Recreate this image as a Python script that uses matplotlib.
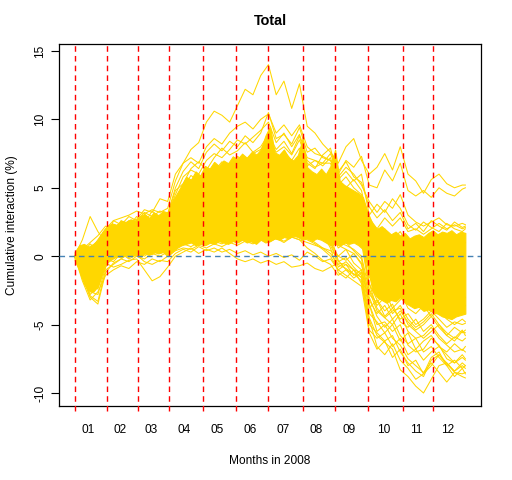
import matplotlib
matplotlib.use("Agg")
import matplotlib.pyplot as plt

plt.rcParams['font.family'] = ['Liberation Sans', 'DejaVu Sans']

# trading-day grid (2008) for the individual curves
days = [1, 6, 11, 16, 21, 26, 31, 36, 41, 46, 51, 56, 61, 66, 71, 76, 81, 86, 91, 96,
        101, 106, 111, 116, 121, 126, 131, 136, 141, 146, 151, 156, 161, 166, 171, 176,
        181, 186, 191, 196, 201, 206, 211, 216, 221, 226, 231, 236, 241, 246, 251, 253]

month_starts = [1, 22, 42, 62, 84, 105, 126, 148, 169, 190, 213, 232]
last_day = 253
month_labels = ["01", "02", "03", "04", "05", "06", "07", "08", "09", "10", "11", "12"]

# dense core of the bundle of curves (finer grid)
core_days = [1, 4, 7, 10, 13, 16, 19, 22, 25, 28, 31, 34, 37, 40, 43, 46, 49, 52, 55, 58,
             61, 64, 67, 70, 73, 76, 79, 82, 85, 88, 91, 94, 97, 100, 103, 106, 109, 112,
             115, 118, 121, 124, 127, 130, 133, 136, 139, 142, 145, 148, 151, 154, 157,
             160, 163, 166, 169, 172, 175, 178, 181, 184, 187, 190, 193, 196, 199, 202,
             205, 208, 211, 214, 217, 220, 223, 226, 229, 232, 235, 238, 241, 244, 247,
             250, 253]
core_hi = [0.3, 0.8, 0.9, 0.7, 0.9, 1.2, 1.8, 2.2, 2.4, 2.3, 2.6, 2.5, 2.7, 2.6, 2.9, 3.1,
           2.8, 3.2, 3.0, 3.3, 3.2, 4.0, 4.6, 5.2, 5.8, 5.6, 6.2, 5.9, 6.6, 6.4, 6.9, 6.6,
           7.0, 6.8, 7.3, 7.1, 7.5, 7.2, 7.6, 7.4, 7.8, 8.8, 9.5, 7.6, 7.4, 7.8, 7.2, 7.0,
           7.4, 8.6, 6.5, 6.2, 6.0, 6.4, 6.0, 6.6, 7.8, 5.5, 5.2, 5.0, 4.8, 4.6, 4.3, 3.2,
           2.4, 2.0, 2.2, 1.9, 1.6, 1.8, 1.5, 1.7, 1.3, 1.5, 1.6, 1.4, 1.7, 1.9, 1.6, 1.8,
           1.7, 1.9, 1.6, 1.8, 1.7]
core_lo = [-0.3, -1.0, -2.0, -2.5, -2.6, -2.2, -1.2, -0.4, -0.2, 0.0, -0.1, 0.1, 0.0, 0.1,
           -0.1, 0.2, 0.1, 0.3, 0.2, 0.3, 0.0, 0.3, 0.6, 0.8, 0.9, 1.0, 0.8, 0.9, 0.8, 1.0,
           0.9, 1.1, 1.0, 0.9, 1.1, 1.0, 1.2, 1.0, 1.1, 0.9, 1.2, 1.0, 1.1, 1.3, 1.2, 1.4,
           1.3, 1.5, 1.4, 1.2, 1.3, 1.1, 1.3, 1.2, 1.0, 0.8, 0.9, 0.8, 1.0, 0.9, 1.0, 0.8,
           0.5, -0.8, -2.5, -3.0, -3.2, -3.4, -3.2, -3.3, -3.0, -3.4, -3.6, -3.8, -3.7,
           -4.0, -3.9, -4.1, -4.2, -4.4, -4.5, -4.6, -4.4, -4.3, -4.2]

# individual curves reaching outside the core
curve_1 = [0.0, 1.2, 2.9, 1.8, 1.0, 2.6, 2.8, 3.0, 3.3, 3.1, 3.4, 3.2, 3.5, 5.5, 6.8, 7.8,
           8.3, 9.8, 10.6, 10.3, 9.8, 11.0, 12.2, 11.8, 13.2, 14.0, 11.8, 12.8, 10.8, 12.6,
           9.5, 9.0, 8.2, 7.6, 6.8, 8.0, 8.6, 7.0, 6.0, 6.5, 7.5, 6.3, 8.0, 6.0, 5.5, 4.6,
           5.6, 6.0, 5.3, 5.0, 5.2, 5.2]
curve_2 = [0.0, 0.5, 1.0, 1.5, 2.2, 2.0, 2.4, 2.5, 2.7, 3.4, 3.2, 4.2, 4.0, 6.0, 6.8, 7.2,
           6.8, 8.0, 8.6, 8.2, 9.0, 9.5, 9.8, 9.3, 10.0, 10.4, 9.0, 9.6, 8.8, 9.6, 8.0, 7.5,
           7.3, 7.0, 5.8, 6.5, 6.0, 5.2, 4.0, 3.2, 4.0, 3.5, 4.5, 3.0, 2.5, 2.2, 2.5, 2.8,
           2.3, 2.2, 2.4, 2.3]
curve_3 = [0.0, 0.2, 0.5, 0.8, 1.8, 2.2, 2.0, 2.3, 2.5, 2.6, 2.8, 2.7, 3.0, 4.5, 5.8, 6.3,
           6.0, 7.0, 7.5, 7.2, 7.8, 8.5, 8.2, 8.7, 9.2, 9.8, 8.3, 9.0, 8.0, 8.9, 7.2, 7.0,
           6.8, 6.8, 5.2, 5.8, 5.0, 4.5, 2.8, 2.0, 2.8, 2.2, 2.8, 1.8, 2.0, 1.6, 2.0, 2.4,
           2.0, 2.3, 2.0, 2.1]
curve_4 = [0.0, 0.5, 0.3, 0.6, 1.5, 1.8, 2.0, 2.2, 2.4, 2.3, 2.5, 2.6, 2.8, 4.0, 4.8, 5.5,
           5.2, 6.0, 6.3, 6.0, 6.6, 7.2, 7.0, 7.5, 7.8, 8.5, 7.6, 8.0, 7.4, 8.5, 7.0, 6.5,
           6.8, 7.5, 6.0, 7.0, 6.5, 7.3, 5.2, 5.0, 6.3, 5.5, 6.8, 4.8, 4.4, 4.8, 4.3, 5.0,
           4.6, 4.4, 4.9, 5.0]
curve_5 = [0.0, -1.5, -3.0, -3.5, -1.2, -0.5, -0.2, 0.2, 0.0, 0.4, 0.6, 0.5, 0.2, 0.8, 1.2,
           1.5, 1.3, 1.8, 2.0, 1.8, 2.2, 2.5, 2.4, 2.8, 2.6, 3.0, 2.8, 3.2, 3.0, 3.5, 2.8,
           2.6, 2.5, 2.0, 1.0, 0.8, 0.5, 0.0, -2.5, -4.0, -4.5, -5.0, -4.2, -5.5, -6.0,
           -5.8, -5.2, -6.0, -6.5, -7.0, -6.8, -7.0]
curve_6 = [0.0, -1.0, -2.2, -2.0, -0.5, -0.8, -0.6, -0.3, -0.2, -1.0, -1.8, -1.5, -0.8,
           0.0, 0.3, 0.6, 0.2, 0.5, 0.3, 0.6, 0.2, -0.2, -0.4, -0.2, -0.5, -0.3, -0.6, -0.4,
           -0.8, -0.7, -0.5, -0.9, -1.1, -0.8, -0.5, -0.6, -1.0, -1.2, -1.5, -2.5, -2.0,
           -3.0, -2.5, -3.5, -3.0, -3.8, -3.2, -3.6, -4.0, -3.5, -3.8, -3.6]
curve_7 = [0.0, -0.8, -1.8, -1.2, 0.2, 0.5, 0.8, 1.0, 0.6, 0.8, 1.0, 1.2, 0.8, 1.5, 2.0,
           2.2, 2.0, 2.5, 2.8, 2.5, 3.0, 3.2, 3.5, 3.2, 3.6, 3.8, 3.5, 3.6, 3.8, 4.0, 3.2,
           2.8, 2.5, 1.5, -0.3, -1.0, -1.3, -1.5, -4.5, -5.8, -6.3, -6.8, -8.3, -8.8, -9.5,
           -10.0, -9.0, -8.0, -7.8, -8.5, -8.8, -8.9]
curve_8 = [0.0, -0.5, -1.0, -0.8, 0.8, 1.0, 1.2, 1.4, 1.2, 1.5, 1.6, 1.5, 1.3, 2.0, 2.5,
           3.0, 2.8, 3.2, 3.5, 3.3, 3.8, 4.0, 4.2, 4.0, 4.5, 4.8, 4.5, 4.6, 4.5, 5.0, 4.0,
           3.6, 3.5, 2.5, 0.8, 0.5, 0.2, -0.5, -3.5, -5.5, -5.0, -6.0, -6.5, -7.5, -8.0,
           -8.5, -7.8, -8.5, -9.2, -8.5, -8.6, -8.5]
curve_9 = [0.0, -1.2, -2.6, -2.8, -0.8, 0.2, 0.4, 0.6, 0.3, 0.6, 0.4, 0.8, 0.5, 1.0, 1.5,
           1.8, 1.6, 2.2, 2.0, 2.4, 2.6, 2.2, 2.8, 2.5, 3.0, 2.6, 3.0, 3.2, 3.4, 3.8, 3.0,
           2.6, 2.2, 1.0, 0.0, 0.5, -0.5, -1.0, -3.5, -5.0, -4.8, -5.5, -5.0, -6.5, -7.0,
           -6.8, -6.0, -6.5, -7.5, -7.8, -7.2, -7.5]
curve_10 = [0.0, -0.8, -1.5, -1.0, 0.5, 1.0, 1.5, 1.3, 1.8, 1.6, 2.0, 1.8, 2.2, 3.0, 3.5,
            4.0, 4.2, 4.5, 4.8, 4.5, 5.0, 5.2, 5.5, 5.0, 5.5, 5.8, 5.2, 5.5, 5.0, 5.8, 4.8,
            4.5, 4.6, 4.0, 3.0, 2.5, 2.0, 1.5, -2.0, -3.8, -4.5, -4.0, -3.8, -5.0, -5.5,
            -6.0, -5.5, -5.0, -5.8, -6.2, -5.5, -5.6]
curve_11 = [0.0, 0.6, 0.4, 1.2, 2.0, 2.6, 2.3, 2.9, 2.6, 3.2, 2.9, 3.3, 3.1, 5.0, 6.2, 6.9,
            6.4, 7.6, 8.2, 7.7, 8.4, 8.0, 8.8, 8.3, 9.0, 10.5, 8.6, 8.9, 8.2, 9.4, 7.6, 7.9,
            7.2, 7.0, 6.2, 6.9, 5.8, 5.4, 3.6, 2.8, 3.4, 2.6, 3.2, 2.0, 2.4, 1.8, 2.6, 2.2,
            1.9, 2.5, 2.1, 2.2]
curve_12 = [0.0, 0.2, 0.9, 0.4, 1.6, 1.8, 2.6, 2.2, 2.9, 2.4, 3.3, 2.8, 3.0, 4.8, 5.3, 6.4,
            6.9, 6.3, 7.2, 7.9, 7.4, 7.7, 8.3, 7.6, 8.0, 8.9, 7.8, 8.4, 7.5, 8.8, 6.8, 6.4,
            7.4, 7.9, 5.6, 6.2, 5.5, 6.0, 3.0, 3.8, 3.2, 4.2, 3.5, 2.3, 1.9, 2.5, 2.1, 1.8,
            2.4, 2.0, 1.8, 2.0]
curve_13 = [0.0, -0.6, -1.6, -2.0, 0.0, 0.8, 0.5, 1.0, 0.7, 1.2, 1.0, 1.4, 1.1, 1.8, 2.4,
            2.9, 2.6, 3.1, 3.4, 3.0, 3.6, 3.3, 3.8, 3.5, 4.1, 4.4, 3.9, 4.2, 4.0, 4.6, 3.6,
            3.3, 3.0, 3.2, 1.8, 2.2, 1.5, 1.2, -2.0, -3.2, -4.0, -3.5, -4.8, -5.2, -4.6,
            -5.5, -5.0, -5.8, -6.4, -5.9, -6.2, -6.0]
curve_14 = [0.0, -1.0, -2.2, -1.6, -0.2, 0.4, 0.2, 0.7, 0.4, 0.9, 0.7, 1.0, 0.6, 1.2, 1.6,
            2.0, 1.8, 2.3, 2.1, 2.6, 2.4, 2.9, 2.7, 3.1, 2.8, 3.4, 3.0, 3.3, 3.1, 3.6, 2.5,
            2.2, 1.9, 1.2, -0.8, -0.4, -1.0, -1.6, -5.0, -5.6, -6.2, -5.8, -7.0, -7.8, -8.4,
            -8.8, -7.6, -7.2, -7.9, -8.4, -8.0, -8.2]
curve_15 = [0.0, -0.4, -1.2, -0.6, 0.6, 1.2, 1.0, 1.5, 1.2, 1.7, 1.5, 1.9, 1.6, 2.4, 2.9,
            3.4, 3.2, 3.8, 4.1, 3.7, 4.3, 4.6, 4.2, 4.8, 4.5, 5.1, 4.7, 5.0, 4.6, 5.3, 4.4,
            4.0, 4.2, 3.6, 2.4, 2.8, 2.2, 1.8, -1.2, -2.4, -2.0, -3.0, -2.6, -3.8, -4.2,
            -3.6, -4.4, -4.0, -4.6, -5.0, -4.6, -4.8]
curve_16 = [0.0, -0.9, -2.0, -2.4, -0.6, -0.2, 0.1, -0.1, 0.3, 0.0, 0.4, 0.2, 0.5, 0.9, 1.1,
            1.4, 1.2, 1.5, 1.3, 1.7, 1.4, 1.8, 1.6, 2.0, 1.7, 2.1, 1.9, 2.2, 2.0, 2.3, 1.4,
            1.0, 0.6, 0.2, -0.6, -0.9, -1.3, -1.8, -5.4, -6.0, -5.6, -6.6, -6.0, -7.2, -6.8,
            -7.6, -7.0, -6.6, -7.2, -7.8, -7.4, -7.6]
curve_17 = [0.0, -1.4, -2.8, -2.2, -0.4, 0.0, 0.3, 0.1, 0.5, 0.2, 0.6, 0.4, 0.7, 1.3, 1.8,
            2.1, 1.9, 2.4, 2.2, 2.7, 2.5, 2.8, 3.0, 2.7, 3.2, 2.9, 3.3, 3.0, 3.4, 3.1, 2.4,
            2.0, 1.6, 0.6, -1.2, -1.6, -1.0, -2.0, -4.6, -6.6, -7.2, -6.4, -7.6, -8.2, -9.0,
            -8.6, -7.4, -7.0, -8.0, -8.8, -8.2, -8.6]
curve_18 = [0.0, -1.8, -3.2, -2.6, -1.4, -1.0, -0.7, -0.9, -0.4, -0.6, -0.2, -0.4, 0.0,
            0.4, 0.6, 0.5, 0.8, 0.6, 0.9, 0.7, 1.0, 0.8, 1.1, 0.9, 1.2, 1.0, 1.3, 1.1, 1.4,
            1.2, 1.0, 0.8, 0.6, 0.4, 0.0, -0.3, 0.2, -0.6, -2.8, -3.4, -2.6, -3.8, -3.2,
            -2.6, -3.4, -2.8, -3.6, -3.0, -3.4, -2.8, -3.2, -3.0]
curve_19 = [0.0, -0.6, -1.4, -1.8, -0.2, -0.4, 0.2, -0.2, 0.1, -0.4, -0.6, -0.3, -0.4, 0.2,
            0.5, 0.3, 0.7, 0.4, 0.6, 0.3, 0.5, 0.2, 0.4, 0.1, 0.3, 0.0, 0.2, -0.1, 0.1,
            -0.3, 0.3, 0.0, -0.4, -0.2, -1.0, -0.6, -1.4, -1.0, -3.2, -4.2, -3.6, -4.6,
            -4.0, -4.8, -5.4, -5.0, -4.4, -5.2, -5.8, -5.2, -5.6, -5.4]
curve_20 = [0.0, 0.4, 0.6, 1.0, 1.9, 2.3, 2.1, 2.6, 2.2, 2.7, 2.5, 2.9, 2.6, 4.2, 5.0, 5.9,
            5.5, 6.5, 6.2, 6.9, 6.6, 7.3, 6.9, 7.6, 7.2, 8.1, 7.1, 7.7, 7.0, 7.9, 6.6, 7.0,
            6.6, 7.2, 5.4, 5.0, 5.6, 4.8, 2.2, 1.4, 2.0, 1.2, 1.8, 0.8, 1.2, 0.6, 1.4, 1.0,
            0.6, 1.2, 0.8, 1.0]
curve_21 = [0.0, -0.7, -1.9, -1.4, 0.3, 0.6, 0.9, 0.7, 1.1, 0.9, 1.3, 1.1, 1.4, 2.2, 2.7,
            3.2, 3.0, 3.5, 3.2, 3.7, 3.4, 3.9, 3.6, 4.0, 3.8, 4.2, 3.9, 4.1, 3.8, 4.3, 3.4,
            3.1, 2.8, 2.2, 0.6, 1.0, 0.4, -0.2, -3.0, -4.4, -5.2, -4.6, -5.8, -6.4, -6.0,
            -7.0, -6.6, -7.4, -8.0, -7.6, -8.2, -8.0]
curve_22 = [0.0, -1.1, -2.4, -1.9, -0.3, 0.3, 0.0, 0.5, 0.2, 0.6, 0.3, 0.7, 0.4, 1.1, 1.4,
            1.8, 1.5, 2.0, 1.7, 2.2, 1.9, 2.4, 2.1, 2.6, 2.3, 2.8, 2.5, 2.7, 2.4, 2.9, 2.0,
            1.7, 1.3, 0.8, -0.4, -0.1, -0.8, -1.4, -4.2, -4.8, -5.6, -5.0, -6.2, -5.6, -6.8,
            -6.2, -5.8, -6.6, -7.0, -6.4, -6.9, -6.6]
curve_23 = [0.0, -0.3, -0.9, -0.5, 0.9, 1.4, 1.2, 1.7, 1.4, 1.9, 1.7, 2.1, 1.8, 2.7, 3.2,
            3.8, 3.5, 4.1, 3.8, 4.4, 4.1, 4.7, 4.4, 4.9, 4.6, 5.3, 4.8, 5.1, 4.7, 5.5, 4.5,
            4.2, 4.4, 3.8, 2.0, 2.4, 1.6, 1.0, -2.4, -3.6, -3.0, -4.2, -3.6, -4.6, -5.2,
            -4.8, -4.2, -5.0, -5.6, -6.0, -5.4, -5.8]
curve_24 = [0.0, -1.6, -2.9, -3.3, -1.0, -0.6, -0.2, -0.4, 0.0, -0.2, 0.2, 0.0, 0.3, 0.7,
            1.0, 1.2, 1.0, 1.3, 1.1, 1.5, 1.2, 1.6, 1.4, 1.8, 1.5, 1.9, 1.6, 2.0, 1.7, 2.1,
            1.2, 0.9, 0.5, 0.0, -1.0, -1.4, -1.8, -2.2, -5.6, -6.8, -6.2, -7.4, -6.8, -8.0,
            -7.6, -8.6, -8.0, -7.2, -7.8, -8.4, -7.8, -8.0]
curve_25 = [0.0, -0.5, -1.1, -1.5, 0.0, 0.2, -0.1, 0.3, 0.0, 0.4, 0.1, 0.5, 0.2, 0.6, 0.9,
            0.7, 1.0, 0.8, 1.1, 0.9, 1.2, 1.0, 1.3, 1.0, 1.4, 1.1, 1.3, 1.0, 1.4, 1.2, 0.6,
            0.2, -0.3, -0.6, -1.4, -1.0, -1.6, -1.2, -3.8, -3.2, -4.4, -3.8, -4.6, -4.2,
            -5.0, -4.6, -4.0, -4.6, -5.2, -4.8, -5.0, -4.9]

curves = [curve_1, curve_2, curve_3, curve_4, curve_5, curve_6, curve_7, curve_8,
          curve_9, curve_10, curve_11, curve_12, curve_13, curve_14, curve_15, curve_16,
          curve_17, curve_18, curve_19, curve_20, curve_21, curve_22, curve_23, curve_24,
          curve_25]

gold = "#FFD700"

fig = plt.figure(figsize=(5.12, 4.8), dpi=100)
ax = fig.add_axes([59 / 512, 1 - 406 / 480, 422 / 512, 362 / 480])

ax.fill_between(core_days, core_lo, core_hi, color=gold, linewidth=0.75, zorder=2)
for c in curves:
    ax.plot(days, c, color=gold, linewidth=0.75, zorder=2)

ax.set_xlim(-9.08, 263.08)
ax.set_ylim(-10.95, 15.51)

# month boundaries
ax.vlines(month_starts, -11.3, 15.51, colors="red", linestyles=(0, (4, 3)),
          linewidth=1.0, clip_on=False, zorder=3)
ax.axhline(0, color="#4682B4", linestyle=(0, (4, 3)), linewidth=1.0, zorder=4)

ends = month_starts[1:] + [last_day + 1]
label_pos = [(s + e - 1) / 2 - 1 for s, e in zip(month_starts, ends)]
ax.set_xticks(label_pos)
ax.set_xticklabels(month_labels, fontsize=8.6)
ax.tick_params(axis="x", length=0, pad=13)

ax.set_yticks([-10, -5, 0, 5, 10, 15])
ax.set_yticklabels(["-10", "-5", "0", "5", "10", "15"], fontsize=8.6,
                   rotation=90, va="center")
ax.tick_params(axis="y", length=6, width=0.8, pad=3)

for s in ax.spines.values():
    s.set_linewidth(0.9)

ax.set_title("Total", fontsize=10.4, fontweight="bold", pad=14)
ax.set_xlabel("Months in 2008", fontsize=8.6, labelpad=14)
ax.set_ylabel("Cumulative interaction (%)", fontsize=8.6, labelpad=12)

fig.savefig("out.png", dpi=100)
